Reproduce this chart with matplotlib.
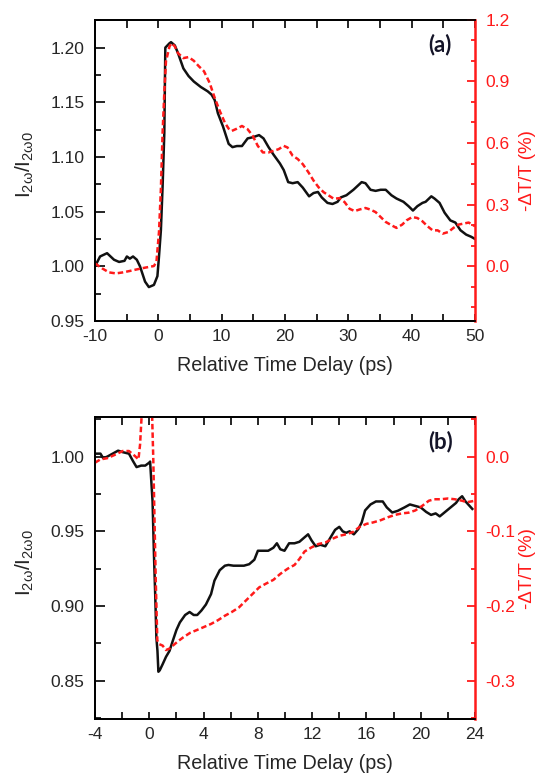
import matplotlib
matplotlib.use("Agg")
import matplotlib.pyplot as plt
from matplotlib.ticker import MultipleLocator, FormatStrFormatter

plt.rcParams["font.family"] = ["Liberation Sans", "DejaVu Sans"]
plt.rcParams["mathtext.fontset"] = "custom"
plt.rcParams["mathtext.rm"] = "Liberation Sans"
plt.rcParams["axes.unicode_minus"] = False

PRETO = "#111111"
VERMELHO = "#ff1a1a"
TEXTO = "#262626"

# ---- painel (a) ----
xa_shg = [-10, -9.2, -8.1, -7.0, -6.2, -5.35, -4.97, -4.5, -4.0, -3.4, -2.9, -2.1, -1.5, -0.7, -0.15,
          0.1, 0.4, 0.67, 0.94, 1.1, 1.76, 2.0, 2.6, 3.1, 3.95, 4.77, 5.6, 6.7, 7.8, 8.4,
          8.9, 9.4, 10.2, 11.1, 11.7, 12.4, 13.2, 14.1, 14.9, 15.9, 16.6, 17.4, 18.2, 19.2, 19.8,
          20.5, 21.2, 22.0, 22.8, 23.8, 24.5, 25.2, 25.8, 26.7, 27.5, 28.3, 28.8, 29.7, 30.8, 32.1,
          32.7, 33.5, 34.3, 35.1, 35.9, 36.8, 37.6, 38.7, 39.5, 40.2, 40.9, 41.7, 42.2, 43.1, 43.6,
          44.4, 45.2, 46.1, 46.9, 47.7, 48.6, 49.4, 50]
ya_shg = [1.000, 1.009, 1.012, 1.006, 1.004, 1.005, 1.009, 1.007, 1.009, 1.006, 1.000, 0.986, 0.981, 0.983, 0.991,
          1.009, 1.033, 1.073, 1.122, 1.200, 1.204, 1.205, 1.202, 1.195, 1.181, 1.174, 1.169, 1.164, 1.160, 1.157,
          1.152, 1.140, 1.128, 1.112, 1.109, 1.110, 1.110, 1.117, 1.118, 1.120, 1.117, 1.109, 1.102, 1.094, 1.088,
          1.077, 1.076, 1.077, 1.072, 1.064, 1.067, 1.068, 1.063, 1.058, 1.057, 1.059, 1.063, 1.065, 1.070, 1.077,
          1.076, 1.070, 1.069, 1.070, 1.070, 1.065, 1.062, 1.059, 1.055, 1.051, 1.055, 1.058, 1.059, 1.064, 1.062,
          1.058, 1.049, 1.042, 1.040, 1.033, 1.029, 1.027, 1.025]

xa_dt = [-10, -8.9, -7.8, -6.7, -5.6, -4.5, -3.2, -2.1, -0.7, -0.3, 0.1, 0.4, 0.67, 0.94, 1.2,
         1.76, 2.1, 2.6, 3.1, 3.95, 4.77, 5.6, 6.4, 7.2, 8.1, 8.9, 9.7, 10.5, 11.1, 11.6,
         12.4, 13.2, 14.1, 14.9, 15.7, 16.5, 17.4, 18.2, 19.0, 19.8, 20.4, 21.2, 22.0, 22.8, 23.7,
         24.5, 25.3, 26.1, 26.9, 27.7, 28.6, 29.4, 30.2, 31.0, 31.8, 32.7, 33.5, 34.3, 35.1, 35.9,
         36.8, 37.6, 38.5, 39.2, 40.1, 40.9, 41.7, 42.5, 43.3, 44.1, 44.9, 45.8, 46.6, 47.4, 48.2,
         49.0, 50]
ya_dt = [0.013, -0.011, -0.031, -0.036, -0.031, -0.024, -0.015, -0.008, 0.0, 0.021, 0.166, 0.376, 0.651, 0.845, 0.998,
         1.071, 1.087, 1.071, 1.038, 1.014, 1.019, 1.001, 0.974, 0.950, 0.893, 0.820, 0.756, 0.699, 0.670, 0.659,
         0.670, 0.683, 0.667, 0.635, 0.586, 0.554, 0.554, 0.562, 0.570, 0.586, 0.578, 0.538, 0.522, 0.497, 0.457,
         0.417, 0.384, 0.360, 0.344, 0.328, 0.331, 0.312, 0.279, 0.268, 0.276, 0.283, 0.275, 0.263, 0.239, 0.215,
         0.199, 0.186, 0.202, 0.223, 0.239, 0.234, 0.218, 0.194, 0.174, 0.174, 0.158, 0.166, 0.186, 0.202, 0.207,
         0.212, 0.194]

# ---- painel (b) ----
xb_shg = [-4, -3.6, -3.4, -3.1, -2.7, -2.3, -1.96, -1.5, -1.2, -0.94, -0.6, -0.3, 0.0, 0.06, 0.13,
          0.24, 0.34, 0.44, 0.52, 0.6, 0.67, 0.77, 0.98, 1.23, 1.49, 1.74, 2.0, 2.25, 2.64, 2.97,
          3.27, 3.53, 3.84, 4.17, 4.55, 4.8, 5.19, 5.57, 5.83, 6.2, 6.6, 6.97, 7.36, 7.74, 8.0,
          8.38, 8.76, 9.14, 9.4, 9.65, 9.96, 10.3, 10.7, 11.06, 11.44, 11.7, 11.95, 12.26, 12.6, 12.97,
          13.36, 13.69, 14.0, 14.25, 14.5, 14.76, 15.07, 15.4, 15.65, 15.9, 16.3, 16.7, 17.2, 17.5, 17.9,
          18.3, 18.8, 19.2, 19.6, 20.0, 20.4, 20.76, 21.1, 21.4, 21.8, 22.2, 22.6, 22.8, 23.05, 23.3,
          23.6, 23.8]
yb_shg = [1.002, 1.002, 0.999, 1.000, 1.002, 1.004, 1.003, 1.002, 0.997, 0.993, 0.994, 0.994, 0.996, 0.9967, 0.986,
          0.970, 0.935, 0.906, 0.879, 0.870, 0.856, 0.857, 0.861, 0.866, 0.870, 0.877, 0.884, 0.889, 0.894, 0.896,
          0.894, 0.894, 0.897, 0.901, 0.908, 0.917, 0.924, 0.927, 0.9275, 0.927, 0.927, 0.927, 0.928, 0.931, 0.937,
          0.937, 0.937, 0.939, 0.942, 0.938, 0.937, 0.942, 0.942, 0.943, 0.946, 0.948, 0.944, 0.940, 0.941, 0.940,
          0.946, 0.951, 0.953, 0.950, 0.949, 0.950, 0.948, 0.9515, 0.956, 0.964, 0.968, 0.970, 0.970, 0.966, 0.9626,
          0.9637, 0.966, 0.968, 0.967, 0.966, 0.963, 0.961, 0.962, 0.960, 0.963, 0.966, 0.969, 0.9715, 0.9735, 0.970,
          0.967, 0.965]

xb_dt = [-4, -3.6, -3.1, -2.6, -1.96, -1.5, -1.06, -0.8, -0.68, -0.55, 0.2, 0.29, 0.39, 0.47, 0.59,
         0.72, 0.98, 1.23, 1.49, 1.74, 2.13, 2.5, 3.0, 3.53, 4.04, 4.55, 5.06, 5.57, 6.08, 6.6,
         7.1, 7.6, 8.1, 8.6, 9.14, 9.65, 10.2, 10.7, 11.06, 11.44, 11.95, 12.46, 12.97, 13.48, 14.0,
         14.5, 15.0, 15.5, 16.0, 16.5, 17.06, 17.6, 18.1, 18.6, 19.1, 19.6, 20.1, 20.6, 21.0, 21.5,
         22.0, 22.5, 23.05, 23.4, 24]
yb_dt = [-0.008, -0.0036, -0.002, 0.002, 0.0076, 0.0076, 0.0009, -0.0036, 0.0165, 0.06, 0.06, -0.001, -0.090, -0.162, -0.246,
         -0.251, -0.253, -0.259, -0.257, -0.253, -0.247, -0.242, -0.236, -0.232, -0.228, -0.224, -0.219, -0.213, -0.208, -0.202,
         -0.193, -0.184, -0.175, -0.170, -0.165, -0.157, -0.150, -0.145, -0.137, -0.127, -0.1215, -0.117, -0.115, -0.110, -0.106,
         -0.104, -0.101, -0.094, -0.090, -0.088, -0.085, -0.081, -0.078, -0.076, -0.075, -0.072, -0.066, -0.059, -0.057, -0.057,
         -0.056, -0.057, -0.059, -0.061, -0.059]


def painel(fig, rect, x1, y1, x2, y2, xlim, xmaj, xmin, ylim, ymaj, ymin, rlim, rmaj, rmin, letra):
    ax = fig.add_axes(rect)
    ax2 = ax.twinx()
    ax.plot(x1, y1, color=PRETO, lw=1.8, zorder=3)
    ax2.plot(x2, y2, color=VERMELHO, lw=1.8, ls=(0, (2.2, 1.2)))

    ax.set_xlim(*xlim)
    ax.set_ylim(*ylim)
    ax2.set_ylim(*rlim)
    ax.xaxis.set_major_locator(MultipleLocator(xmaj))
    ax.xaxis.set_minor_locator(MultipleLocator(xmin))
    ax.yaxis.set_major_locator(MultipleLocator(ymaj))
    ax.yaxis.set_minor_locator(MultipleLocator(ymin))
    ax.yaxis.set_major_formatter(FormatStrFormatter("%.2f"))
    ax2.yaxis.set_major_locator(MultipleLocator(rmaj))
    ax2.yaxis.set_minor_locator(MultipleLocator(rmin))
    ax2.yaxis.set_major_formatter(FormatStrFormatter("%.1f"))

    ax.tick_params(axis="x", which="both", direction="in", top=True, length=5.4, width=1.2,
                   labelsize=12.5, labelcolor=TEXTO, pad=6)
    ax.tick_params(axis="y", which="major", direction="in", right=False, length=7.2, width=1.2,
                   labelsize=12.5, labelcolor=TEXTO, pad=7.5)
    ax.tick_params(axis="y", which="minor", direction="in", right=False, length=4.3, width=1.2)
    ax2.tick_params(axis="y", which="major", direction="in", length=6, width=1.3, color=VERMELHO,
                    labelsize=12.5, labelcolor=VERMELHO, pad=7.5)
    ax2.tick_params(axis="y", which="minor", direction="in", length=3.1, width=1.3, color=VERMELHO)

    for lado in ("left", "bottom", "top"):
        ax.spines[lado].set_linewidth(1.3)
        ax2.spines[lado].set_linewidth(1.3)
    ax2.spines["right"].set_color(VERMELHO)
    ax2.spines["right"].set_linewidth(1.8)
    ax.spines["right"].set_visible(False)

    ax.set_xlabel("Relative Time Delay (ps)", fontsize=14.2, color=TEXTO)
    ax.xaxis.set_label_coords(0.5, -0.115)
    ax.set_ylabel(r"$\mathregular{I_{2\omega}/I_{2\omega0}}$", fontsize=15, color=TEXTO)
    ax.yaxis.set_label_coords(-0.155, 0.52)
    # rótulo da direita encostado na borda, como no original, mas sem cortar
    ax2.set_ylabel("-ΔT/T (%)", fontsize=13.5, color=VERMELHO)
    ax2.yaxis.set_label_coords(1.117, 0.5)

    ax.text(0.909, 0.92, letra, transform=ax.transAxes, ha="center", va="center",
            fontsize=16, fontweight="bold", family=["Lato", "DejaVu Sans"], color="#141428")
    return ax, ax2


fig = plt.figure(figsize=(5.43, 7.74), dpi=100)

painel(fig, [0.175, 0.5853, 0.6998, 0.3889], xa_shg, ya_shg, xa_dt, ya_dt,
       (-10, 50), 10, 5, (0.95, 1.2253), 0.05, 0.025, (-0.268, 1.2), 0.3, 0.1, "(a)")
painel(fig, [0.175, 0.0711, 0.6998, 0.3895], xb_shg, yb_shg, xb_dt, yb_dt,
       (-4, 24), 4, 2, (0.8244, 1.0262), 0.05, 0.025, (-0.3513, 0.0525), 0.1, 0.05, "(b)")

fig.savefig("out.png", dpi=100)
